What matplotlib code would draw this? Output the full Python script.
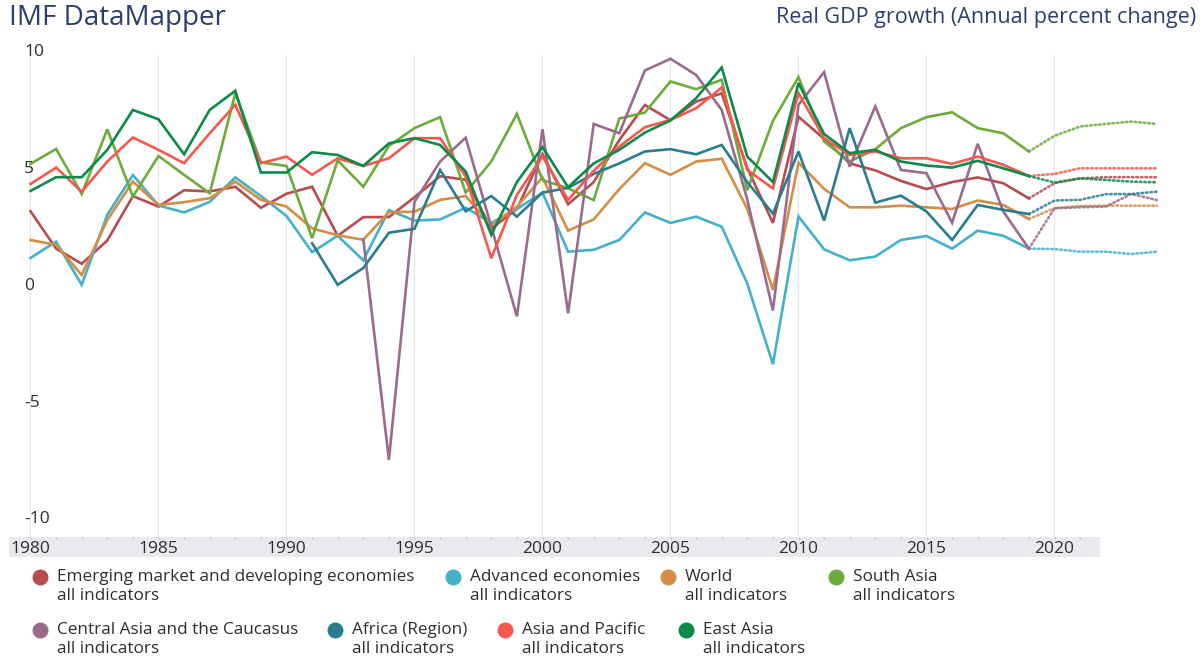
#!/usr/bin/env python3
"""
IMF DataMapper style chart: real GDP growth by region, 1980-2024.
Solid lines are actuals, dotted lines are projections from 2019 on.
"""
import numpy as np
from matplotlib import pyplot as plt
from matplotlib.lines import Line2D

plt.rcParams['font.family'] = ['Open Sans', 'DejaVu Sans']

# ---- data ----
years = list(range(1980, 2020))
proj_years = list(range(2019, 2025))

emde = [3.2, 1.6, 0.95, 1.95, 3.85, 3.4, 4.1, 4.05, 4.25, 3.35,
        3.95, 4.25, 2.15, 2.95, 2.95, 3.8, 4.7, 4.55, 2.45, 3.3,
        5.65, 3.5, 4.45, 6.25, 7.75, 7.1, 7.9, 8.25, 5.05, 2.7,
        7.25, 6.3, 5.25, 4.95, 4.5, 4.15, 4.45, 4.65, 4.4, 3.75]
emde_proj = [3.75, 4.4, 4.61, 4.66, 4.66, 4.66]

advanced = [1.2, 1.9, 0.05, 3.05, 4.75, 3.45, 3.15, 3.6, 4.65, 3.85,
            3.0, 1.45, 2.15, 1.1, 3.25, 2.8, 2.85, 3.35, 2.7, 3.3,
            4.0, 1.47, 1.55, 1.97, 3.15, 2.7, 2.97, 2.54, 0.1, -3.35,
            2.98, 1.57, 1.1, 1.26, 1.97, 2.14, 1.6, 2.37, 2.15, 1.6]
advanced_proj = [1.6, 1.58, 1.47, 1.47, 1.37, 1.47]

world = [1.97, 1.76, 0.47, 2.83, 4.47, 3.47, 3.59, 3.76, 4.47, 3.69,
         3.4, 2.47, 2.17, 1.98, 3.16, 3.18, 3.69, 3.85, 2.6, 3.4,
         4.65, 2.37, 2.85, 4.15, 5.26, 4.76, 5.33, 5.45, 3.3, -0.17,
         5.28, 4.16, 3.37, 3.37, 3.44, 3.37, 3.3, 3.66, 3.47, 2.87]
world_proj = [2.87, 3.33, 3.43, 3.44, 3.44, 3.44]

south_asia = [5.23, 5.87, 3.94, 6.71, 3.83, 5.57, 4.76, 3.97, 8.26, 5.29,
              5.14, 2.05, 5.38, 4.25, 6.0, 6.76, 7.23, 4.0, 5.33, 7.37,
              4.54, 4.18, 3.68, 7.17, 7.43, 8.76, 8.43, 8.83, 4.1, 7.07,
              8.95, 6.19, 5.33, 5.86, 6.76, 7.23, 7.44, 6.76, 6.54, 5.76]
south_asia_proj = [5.76, 6.43, 6.83, 6.94, 7.04, 6.94]

central_asia = [None] * 13 + [
    2.0, -7.45, 3.6, 5.33, 6.35, 2.54, -1.3,
    6.71, -1.17, 6.94, 6.54, 9.23, 9.73, 9.04, 7.54, 3.7, -1.05,
    7.76, 9.16, 5.11, 7.69, 4.97, 4.83, 2.71, 6.09, 3.19, 1.6]
central_asia_proj = [1.6, 3.33, 3.37, 3.4, 3.94, 3.68]

africa = [None] * 11 + [
    1.83, 0.05, 0.77, 2.28, 2.45, 4.97, 3.2, 3.85, 2.97,
    4.0, 4.2, 4.8, 5.25, 5.76, 5.86, 5.64, 6.04, 4.45, 3.1,
    5.76, 2.8, 6.76, 3.57, 3.87, 3.19, 1.97, 3.47, 3.26, 3.08]
africa_proj = [3.08, 3.66, 3.69, 3.93, 3.94, 4.04]

asia_pacific = [4.37, 5.07, 4.04, 5.33, 6.36, 5.83, 5.26, 6.54, 7.76, 5.26,
                5.54, 4.76, 5.47, 5.14, 5.47, 6.33, 6.33, 4.69, 1.19, 3.9,
                5.55, 3.69, 4.93, 5.97, 6.8, 7.11, 7.61, 8.5, 4.97, 4.18,
                8.26, 6.33, 5.61, 5.76, 5.47, 5.47, 5.23, 5.54, 5.19, 4.71]
asia_pacific_proj = [4.71, 4.8, 5.04, 5.04, 5.04, 5.04]

east_asia = [4.07, 4.66, 4.66, 5.83, 7.54, 7.14, 5.64, 7.54, 8.36, 4.86,
             4.86, 5.73, 5.61, 5.14, 6.11, 6.33, 6.04, 4.9, 2.19, 4.45,
             5.95, 4.23, 5.25, 5.83, 6.57, 7.09, 8.04, 9.36, 5.54, 4.45,
             8.69, 6.51, 5.69, 5.83, 5.33, 5.16, 5.07, 5.36, 5.04, 4.71]
east_asia_proj = [4.71, 4.43, 4.61, 4.54, 4.47, 4.44]

names = ['Emerging market and developing economies', 'Advanced economies',
         'World', 'South Asia', 'Central Asia and the Caucasus',
         'Africa (Region)', 'Asia and Pacific', 'East Asia']
series = [emde, advanced, world, south_asia, central_asia, africa,
          asia_pacific, east_asia]
projections = [emde_proj, advanced_proj, world_proj, south_asia_proj,
               central_asia_proj, africa_proj, asia_pacific_proj,
               east_asia_proj]
colors = ['#b64b50', '#44b1c9', '#d28f45', '#6dab3b', '#9a6b8d',
          '#2a7d8f', '#f6584d', '#0b8a49']

y_ticks = [10, 5, 0, -5, -10]
x_ticks = [1980, 1985, 1990, 1995, 2000, 2005, 2010, 2015, 2020]

W, H = 1204, 658
TITLE_COLOR = '#2c3f6c'
TEXT_COLOR = '#2e2e2e'


def fx(px):
    return px / W


def fy(py):
    return 1 - py / H


def run():
    fig = plt.figure(figsize=(W / 100, H / 100), dpi=100)

    # main plot area spans the full width; 1980 sits at x=30px
    ax = fig.add_axes([0, fy(537), 1, 497 / H])
    ax.set_xlim(1980 - 30.5 / 25.6, 1980 + (W - 30.5) / 25.6)
    ax.set_ylim(-10.75, 10.535)
    ax.axis('off')

    # vertical gridlines every five years
    ax.vlines(x_ticks, -10.75, 9.9, color='#e8e8e8', lw=1, zorder=0)

    for vals, proj, col in zip(series, projections, colors):
        y = np.array([np.nan if v is None else v for v in vals], dtype=float)
        ax.plot(years, y, color=col, lw=1.9, solid_joinstyle='miter')
        ax.plot(proj_years, proj, color=col, lw=1.9, ls=(0, (0.6, 1.1)),
                dash_capstyle='round', alpha=0.85)

    # y labels drawn inside the plot, left aligned
    for v in y_ticks:
        ax.text(fx(24), v, str(v), transform=ax.get_yaxis_transform(),
                ha='left', va='center', fontsize=12.5, color=TEXT_COLOR)

    # grey band holding the year labels
    band = fig.add_axes([fx(9), fy(557), 1091 / W, 20 / H])
    band.set_xlim(1980 - 21.5 / 25.6, 1980 + 1069.5 / 25.6)
    band.set_ylim(0, 1)
    band.set_facecolor('#e8eaee')
    for s in band.spines.values():
        s.set_visible(False)
    band.set_xticks([])
    band.set_yticks([])
    band.vlines(range(1980, 2022), 0.88, 1.0, color='#b8bcc4', lw=0.8)
    for yr in x_ticks:
        band.text(yr, 0.42, str(yr), ha='center', va='center',
                  fontsize=12.5, color=TEXT_COLOR)

    # titles
    fig.text(fx(9), fy(18), 'IMF DataMapper', ha='left', va='center',
             fontsize=20, color=TITLE_COLOR)
    fig.text(fx(1196), fy(18), 'Real GDP growth (Annual percent change)',
             ha='right', va='center', fontsize=15.5, color=TITLE_COLOR)

    # legend, two rows of four
    marker_x = [40, 453, 668, 836, 40, 335, 505, 686]
    row_y = [577, 577, 577, 577, 630, 630, 630, 630]
    for name, col, mx, my in zip(names, colors, marker_x, row_y):
        fig.add_artist(Line2D([fx(mx)], [fy(my)], transform=fig.transFigure,
                              marker='o', ms=10.5, color=col, ls='none'))
        fig.text(fx(mx + 17), fy(my), name, ha='left', va='center',
                 fontsize=12.3, color=TEXT_COLOR)
        fig.text(fx(mx + 17), fy(my + 19), 'all indicators', ha='left',
                 va='center', fontsize=12.3, color=TEXT_COLOR)

    fig.savefig('out.png', dpi=100)


if __name__ == '__main__':
    run()
